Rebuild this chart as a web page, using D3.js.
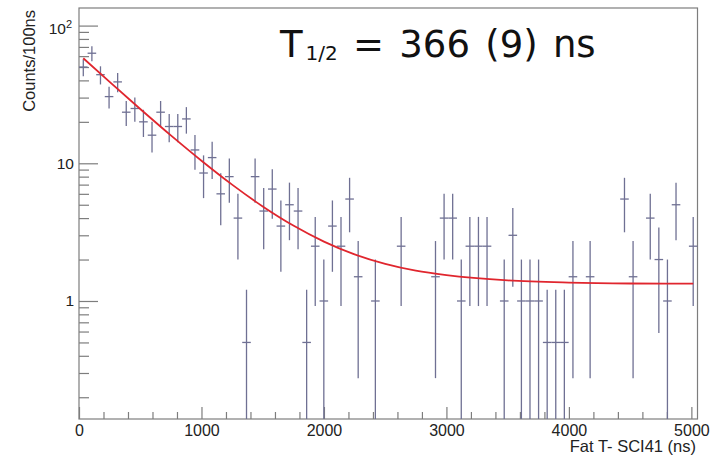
<!DOCTYPE html>
<html><head><meta charset="utf-8">
<script src="https://cdn.jsdelivr.net/npm/d3@7/dist/d3.min.js"></script>
<style>html,body{margin:0;padding:0;background:#fff;} svg{display:block;}</style>
</head><body><svg id="c" width="716" height="456"></svg>
<script>
// Histogram: 72 bins over [0, 5050] ns, content in Counts/100ns (0 = empty bin)
const histRange = [0, 5050];
const binCounts = [
  50, 63, 44, 30.5, 39, 23.5, 25, 20, 16, 23.5,
  18.5, 18.5, 21, 12.5, 8.5, 11, 6, 8, 4, 0.5,
  8, 4.5, 6.5, 3.5, 5, 4.5, 0.5, 2.5, 1, 3.5,
  2.5, 5.5, 1.5, 0, 1, 0, 0, 2.5, 0, 0,
  0, 1.5, 4, 4, 1, 2.5, 2.5, 2.5, 0, 1,
  3, 1, 1, 1, 0.5, 0.5, 0.5, 1.5, 0, 1.5,
  0, 0, 0, 5.5, 1.5, 0, 4, 2, 1, 5,
  0, 2.5
];
// Fit curve readings (x in ns, y in Counts/100ns)
const fitX = [35, 250, 500, 750, 1000, 1250, 1500, 1750, 2000, 2250, 2500, 2750, 3000, 3500, 4000, 4500, 5015];
const fitY = [57.9, 39.0, 24.8, 15.95, 10.44, 7.0, 4.86, 3.53, 2.70, 2.18, 1.86, 1.66, 1.54, 1.41, 1.36, 1.34, 1.335];
// Axes
const yRange = [0.139, 134.2];
const xMajorTicks = [0, 1000, 2000, 3000, 4000, 5000];
const xMinorTicks = [200, 400, 600, 800, 1200, 1400, 1600, 1800, 2200, 2400, 2600, 2800, 3200, 3400, 3600, 3800, 4200, 4400, 4600, 4800];
const yMajorTicks = [1, 10, 100];
const yMinorTicks = [0.2, 0.3, 0.4, 0.5, 0.6, 0.7, 0.8, 0.9, 2, 3, 4, 5, 6, 7, 8, 9, 20, 30, 40, 50, 60, 70, 80, 90];
const xTitle = "Fat T- SCI41 (ns)";
const yTitle = "Counts/100ns";

const frame = {l: 79, r: 697.5, t: 8, b: 419};
const axisColor = "#7d7d7d";
const barColor = "#6f7093";
const fitColor = "#e0262e";
const sans = "'Liberation Sans', Arial, sans-serif";

const svg = d3.select('#c');
const x = d3.scaleLinear().domain(histRange).range([frame.l, frame.r]);
const y = d3.scaleLog().domain(yRange).range([frame.b, frame.t]);

// frame
svg.append('rect').attr('x', frame.l).attr('y', frame.t)
  .attr('width', frame.r - frame.l).attr('height', frame.b - frame.t)
  .attr('fill', 'none').attr('stroke', axisColor).attr('stroke-width', 1.2);

function styleAxis(g) {
  g.select('.domain').remove();
  g.selectAll('line').attr('stroke', axisColor).attr('stroke-width', 1.2);
  g.attr('font-family', sans).attr('font-size', 16);
  g.selectAll('text').attr('fill', '#222');
}

// x axis
svg.append('g').attr('transform', `translate(0,${frame.b})`)
  .call(d3.axisBottom(x).tickValues(xMajorTicks).tickSizeInner(-12).tickSizeOuter(0).tickPadding(6).tickFormat(d3.format('d')))
  .call(styleAxis);
svg.append('g').attr('transform', `translate(0,${frame.b})`)
  .call(d3.axisBottom(x).tickValues(xMinorTicks).tickSizeInner(-7).tickSizeOuter(0).tickFormat(''))
  .call(styleAxis);

// y axis
const yg = svg.append('g').attr('transform', `translate(${frame.l},0)`)
  .call(d3.axisLeft(y).tickValues(yMajorTicks).tickSizeInner(-19).tickSizeOuter(0).tickPadding(5)
    .tickFormat(d => d === 100 ? '10' : String(d)))
  .call(styleAxis);
yg.selectAll('.tick text').attr('font-size', 15.5).each(function(d) {
  if (d === 100) {
    const t = d3.select(this);
    t.attr('x', -7).attr('dy', '0.5em');
    t.append('tspan').attr('font-size', 11).attr('dy', '-0.55em').text('2');
  }
});
svg.append('g').attr('transform', `translate(${frame.l},0)`)
  .call(d3.axisLeft(y).tickValues(yMinorTicks).tickSizeInner(-10).tickSizeOuter(0).tickFormat(''))
  .call(styleAxis);

// axis titles
svg.append('text').attr('x', 696).attr('y', 452).attr('text-anchor', 'end')
  .attr('font-family', sans).attr('font-size', 16.5).attr('fill', '#222').text(xTitle);
svg.append('text').attr('transform', 'translate(35,10) rotate(-90)').attr('text-anchor', 'end')
  .attr('font-family', sans).attr('font-size', 16.5).attr('fill', '#222').text(yTitle);

// histogram error bars
const binW = (histRange[1] - histRange[0]) / binCounts.length;
const bins = binCounts.map((v, i) => ({
  lo: histRange[0] + i * binW, hi: histRange[0] + (i + 1) * binW,
  c: histRange[0] + (i + 0.5) * binW, v: v, e: Math.sqrt(v)
})).filter(b => b.v > 0);

const hg = svg.append('g').attr('stroke', barColor).attr('stroke-width', 1.3).attr('fill', 'none');
hg.selectAll('line.v').data(bins).join('line').attr('class', 'v')
  .attr('x1', b => x(b.c)).attr('x2', b => x(b.c))
  .attr('y1', b => b.v - b.e > yRange[0] ? y(b.v - b.e) : frame.b)
  .attr('y2', b => y(Math.min(b.v + b.e, yRange[1])));
hg.selectAll('line.h').data(bins).join('line').attr('class', 'h')
  .attr('x1', b => x(b.lo)).attr('x2', b => x(b.hi))
  .attr('y1', b => y(b.v)).attr('y2', b => y(b.v));

// fit curve
const fitPts = fitX.map((xv, i) => [xv, fitY[i]]);
svg.append('path').datum(fitPts)
  .attr('d', d3.line().x(d => x(d[0])).y(d => y(d[1])).curve(d3.curveMonotoneX))
  .attr('fill', 'none').attr('stroke', fitColor).attr('stroke-width', 1.8);

// annotation
const ann = svg.append('text').attr('x', 280).attr('y', 56.5)
  .attr('font-family', "'DejaVu Sans', sans-serif").attr('font-size', 37).attr('fill', '#111')
  .style('white-space', 'pre').style('word-spacing', '3.5px');
ann.append('tspan').text('T');
ann.append('tspan').attr('font-size', 20).attr('dx', 3).attr('dy', 3.5).text('1/2');
ann.append('tspan').attr('dy', -3.5).text(' = 366 (9) ns');
</script></body></html>
